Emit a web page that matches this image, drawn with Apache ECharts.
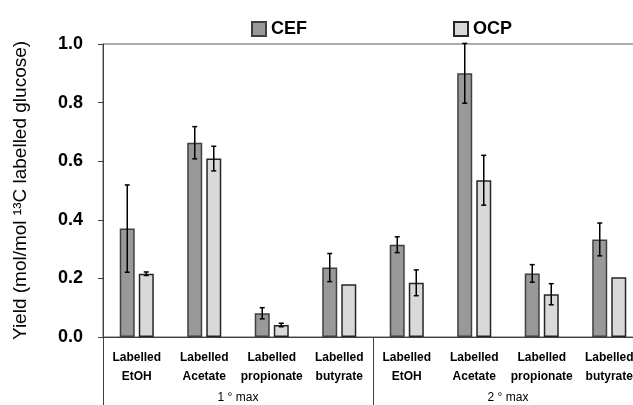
<!DOCTYPE html>
<html>
<head>
<meta charset="utf-8">
<script src="https://cdn.jsdelivr.net/npm/echarts@6/dist/echarts.min.js"></script>
<style>
  html, body { margin: 0; padding: 0; overflow: hidden; background: #fff; }
  #chart { width: 650px; height: 405px; }
</style>
</head>
<body>
<div id="chart"></div>
<script>
// categories (two level axis)
var categories = ['Labelled\nEtOH', 'Labelled\nAcetate', 'Labelled\npropionate', 'Labelled\nbutyrate',
                  'Labelled\nEtOH', 'Labelled\nAcetate', 'Labelled\npropionate', 'Labelled\nbutyrate'];
var groups = ['1 ° max', '2 ° max'];

// yields
var cefValues = [0.370, 0.663, 0.081, 0.237, 0.315, 0.900, 0.217, 0.333];
var cefErrors = [0.149, 0.055, 0.019, 0.048, 0.027, 0.102, 0.030, 0.056];
var ocpValues = [0.216, 0.609, 0.041, 0.180, 0.185, 0.535, 0.146, 0.204];
var ocpErrors = [0.006, 0.042, 0.006, 0, 0.044, 0.085, 0.036, 0];

var yTicks = [0, 0.2, 0.4, 0.6, 0.8, 1.0];

var FONT = '"Liberation Sans", Arial, sans-serif';
var BAR_W = 15;
var OFFSET = 9.5;

function errData(vals, errs) {
    var out = [];
    for (var i = 0; i < vals.length; i++) {
        if (errs[i] > 0) out.push([i, vals[i] - errs[i], vals[i] + errs[i]]);
    }
    return out;
}

function errSeries(vals, errs, dx) {
    return {
        type: 'custom',
        xAxisIndex: 0,
        z: 10,
        renderItem: function (params, api) {
            var lo = api.coord([api.value(0), api.value(1)]);
            var hi = api.coord([api.value(0), api.value(2)]);
            var x = lo[0] + dx;
            var style = { stroke: '#000', lineWidth: 1.5 };
            return {
                type: 'group',
                children: [
                    { type: 'line', shape: { x1: x, y1: lo[1], x2: x, y2: hi[1] }, style: style },
                    { type: 'line', shape: { x1: x - 2.5, y1: lo[1], x2: x + 2.5, y2: lo[1] }, style: style },
                    { type: 'line', shape: { x1: x - 2.5, y1: hi[1], x2: x + 2.5, y2: hi[1] }, style: style }
                ]
            };
        },
        encode: { x: 0, y: [1, 2] },
        data: errData(vals, errs)
    };
}

var chart = echarts.init(document.getElementById('chart'));

var option = {
    animation: false,
    textStyle: { fontFamily: FONT },
    legend: {
        left: 246,
        top: 15,
        itemWidth: 14,
        itemHeight: 14,
        itemGap: 146,
        icon: 'rect',
        textStyle: { fontFamily: FONT, fontSize: 18, fontWeight: 'bold', color: '#000' },
        data: ['CEF', 'OCP']
    },
    grid: {
        left: 103,
        right: 7,
        top: 44,
        bottom: 68,
        show: true,
        borderColor: '#595959',
        borderWidth: 1
    },
    xAxis: [{
        type: 'category',
        data: categories,
        axisLine: { lineStyle: { color: '#404040', width: 1 } },
        axisTick: { show: false },
        axisLabel: {
            interval: 0,
            margin: 11,
            lineHeight: 19,
            fontFamily: FONT,
            fontSize: 12,
            fontWeight: 'bold',
            color: '#000'
        }
    }, {
        type: 'category',
        data: groups,
        position: 'bottom',
        axisLine: { show: false },
        axisTick: { show: true, length: 68, lineStyle: { color: '#404040', width: 1 } },
        axisLabel: { margin: 55, fontFamily: FONT, fontSize: 12, color: '#000' }
    }],
    yAxis: {
        type: 'value',
        min: 0,
        max: 1.0,
        interval: 0.2,
        name: 'Yield (mol/mol ¹³C labelled glucose)',
        nameLocation: 'middle',
        nameGap: 73,
        nameTextStyle: { fontFamily: FONT, fontSize: 19, color: '#000' },
        splitLine: { show: false },
        axisLine: { show: true, lineStyle: { color: '#404040' } },
        axisTick: { show: true, length: 5, lineStyle: { color: '#404040' } },
        axisLabel: {
            margin: 20,
            fontFamily: FONT,
            fontSize: 18,
            fontWeight: 'bold',
            color: '#000',
            formatter: function (v) { return yTicks.indexOf(v) >= 0 ? v.toFixed(1) : ''; }
        }
    },
    series: [{
        name: 'CEF',
        type: 'bar',
        barWidth: BAR_W,
        barGap: '27%',
        itemStyle: { color: '#999999', borderColor: '#404040', borderWidth: 1.5 },
        data: cefValues
    }, {
        name: 'OCP',
        type: 'bar',
        barWidth: BAR_W,
        itemStyle: { color: '#d9d9d9', borderColor: '#262626', borderWidth: 1.5 },
        data: ocpValues
    },
    errSeries(cefValues, cefErrors, -OFFSET),
    errSeries(ocpValues, ocpErrors, OFFSET)
    ]
};

chart.setOption(option);
</script>
</body>
</html>
